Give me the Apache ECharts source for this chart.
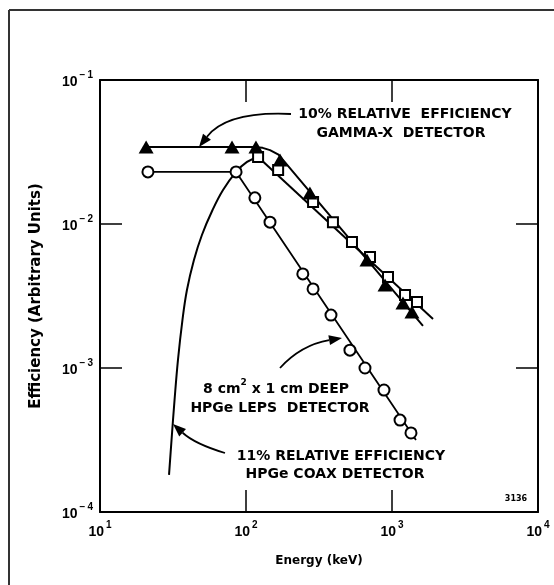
<!DOCTYPE html>
<html>
<head>
<meta charset="utf-8">
<title>Efficiency vs Energy</title>
<script src="https://cdn.jsdelivr.net/npm/echarts@6/dist/echarts.min.js"></script>
<style>
    html, body { margin: 0; padding: 0; background: #fff; }
    #chart { width: 554px; height: 585px; }
</style>
</head>
<body>
<div id="chart"></div>
<script>
'use strict';
// ---- data (energy keV / efficiency) ----
// 10% gamma-x detector, filled triangles
var triE   = [20.7, 80.2, 117, 171, 274, 674, 896, 1189, 1370];
var triEff = [0.0343, 0.0343, 0.0343, 0.0278, 0.0164, 0.00562, 0.00377, 0.00283, 0.00245];
var triFitE   = [20.7, 110, 130, 146, 167, 1630];
var triFitEff = [0.0343, 0.0343, 0.0338, 0.0326, 0.0303, 0.00196];

// 11% coax detector, open squares + smooth low-energy curve
var sqE   = [121, 166, 288, 394, 532, 707, 939, 1228, 1483];
var sqEff = [0.0292, 0.0237, 0.0142, 0.0103, 0.0075, 0.0059, 0.00429, 0.00321, 0.00287];
var coaxE   = [29.7, 30.9, 32.4, 34.2, 36.7, 39.4, 44.0, 49.9, 59.0, 69.6, 85.5, 101.6, 121];
var coaxEff = [0.000181, 0.000316, 0.000599, 0.00114, 0.00215, 0.00348, 0.00562, 0.00839, 0.0125, 0.0172, 0.0230, 0.0270, 0.0292];
var sqFitE   = [121, 1910];
var sqFitEff = [0.0292, 0.00219];

// LEPS detector, open circles
var leE   = [21.3, 85.5, 115, 146, 245, 288, 382, 515, 653, 881, 1135, 1349];
var leEff = [0.0230, 0.0230, 0.0152, 0.0103, 0.0045, 0.00354, 0.00233, 0.00133, 0.00100, 0.000703, 0.000435, 0.000354];
var leFitE   = [21.3, 85.5, 1459];
var leFitEff = [0.0230, 0.0230, 0.000316];

var xRange = [10, 10000];
var yRange = [0.0001, 0.1];

var FONT = '"Liberation Sans", Arial, sans-serif';
var WIDE = '"DejaVu Sans", sans-serif';

function pairs(xs, ys) {
    return xs.map(function (x, i) { return [x, ys[i]]; });
}

function powLabel(v) {
    var e = Math.round(Math.log(v) / Math.LN10);
    return '{b|10}{s|' + (e < 0 ? '\u2212\u2009' + (-e) : e) + '}';
}

var labelRich = {
    b: { fontSize: 14, fontWeight: 'bold', fontFamily: FONT, color: '#000', lineHeight: 19, verticalAlign: 'bottom' },
    s: { fontSize: 10, fontWeight: 'bold', fontFamily: FONT, color: '#000', lineHeight: 10, verticalAlign: 'top', padding: [0, 0, 0, 2] }
};

// quadratic curve with a filled arrow head at (x1, y1)
function arrow(x0, y0, cx, cy, x1, y1) {
    var dx = x1 - cx, dy = y1 - cy;
    var len = Math.sqrt(dx * dx + dy * dy);
    dx /= len; dy /= len;
    var L = 13, w = 5;
    var bx = x1 - dx * L, by = y1 - dy * L;
    return [
        {
            type: 'bezierCurve',
            shape: { x1: x0, y1: y0, cpx1: cx, cpy1: cy, x2: bx, y2: by },
            style: { stroke: '#000', lineWidth: 1.8, fill: null }
        },
        {
            type: 'polygon',
            shape: { points: [[x1, y1], [bx - dy * w, by + dx * w], [bx + dy * w, by - dx * w]] },
            style: { fill: '#000' }
        }
    ];
}

function label(txt, x, y, size) {
    return {
        type: 'text',
        style: {
            text: txt, x: x, y: y,
            align: 'center', verticalAlign: 'middle',
            fontSize: size || 14, fontWeight: 'bold', fontFamily: WIDE, fill: '#000',
            rich: {
                s: { fontSize: 9, fontWeight: 'bold', fontFamily: WIDE, verticalAlign: 'top', lineHeight: 9 },
                n: { fontSize: 14, fontWeight: 'bold', fontFamily: WIDE, verticalAlign: 'bottom', lineHeight: 18 }
            }
        },
        z: 10
    };
}

var axisCommon = {
    type: 'log',
    logBase: 10,
    axisLine: { lineStyle: { color: '#000', width: 2 } },
    axisTick: { show: true, inside: true, length: 22, lineStyle: { color: '#000', width: 1.5 } },
    minorTick: { show: false },
    splitLine: { show: false }
};

var chart = echarts.init(document.getElementById('chart'));

var graphics = [
    // outer frame (only top and left edges show)
    { type: 'line', shape: { x1: 9, y1: 10, x2: 554, y2: 10 }, style: { stroke: '#333', lineWidth: 2 } },
    { type: 'line', shape: { x1: 9, y1: 10, x2: 9, y2: 585 }, style: { stroke: '#333', lineWidth: 2 } },
    label('10% RELATIVE  EFFICIENCY', 405, 114),
    label('GAMMA-X  DETECTOR', 401, 133),
    label('{n|8 cm}{s|2}{n| x 1 cm DEEP}', 276, 387),
    label('HPGe LEPS  DETECTOR', 280, 408),
    label('11% RELATIVE EFFICIENCY', 341, 456),
    label('HPGe COAX DETECTOR', 335, 474),
    label('3136', 516, 499, 8)
].concat(
    arrow(291, 114, 227, 111, 199, 147),
    arrow(280, 368, 301, 345, 342, 338),
    arrow(225, 453, 195, 444, 173, 424)
);

var option = {
    animation: false,
    backgroundColor: '#fff',
    grid: { left: 100, top: 80, right: 16, bottom: 73 },
    xAxis: [
        Object.assign({}, axisCommon, {
            position: 'bottom',
            min: xRange[0], max: xRange[1],
            name: 'Energy (keV)',
            nameLocation: 'middle',
            nameGap: 43,
            nameTextStyle: { fontSize: 12, fontWeight: 'bold', fontFamily: WIDE, color: '#000' },
            axisLabel: { margin: 8, formatter: powLabel, rich: labelRich }
        }),
        Object.assign({}, axisCommon, {
            position: 'top',
            min: xRange[0], max: xRange[1],
            axisLabel: { show: false }
        })
    ],
    yAxis: [
        Object.assign({}, axisCommon, {
            position: 'left',
            min: yRange[0], max: yRange[1],
            name: 'Efficiency (Arbitrary Units)',
            nameLocation: 'middle',
            nameRotate: 90,
            nameGap: 56,
            nameTextStyle: { fontSize: 15, fontWeight: 'bold', fontFamily: WIDE, color: '#000' },
            axisLabel: { margin: 7, formatter: powLabel, rich: labelRich }
        }),
        Object.assign({}, axisCommon, {
            position: 'right',
            min: yRange[0], max: yRange[1],
            axisLabel: { show: false }
        })
    ],
    graphic: graphics,
    series: [
        {
            type: 'line', data: pairs(triFitE, triFitEff),
            symbol: 'none', lineStyle: { color: '#000', width: 2 }, z: 2
        },
        {
            type: 'line', data: pairs(coaxE, coaxEff), smooth: 0.4,
            symbol: 'none', lineStyle: { color: '#000', width: 2 }, z: 2
        },
        {
            type: 'line', data: pairs(sqFitE, sqFitEff),
            symbol: 'none', lineStyle: { color: '#000', width: 2 }, z: 2
        },
        {
            type: 'line', data: pairs(leFitE, leFitEff),
            symbol: 'none', lineStyle: { color: '#000', width: 1.8 }, z: 2
        },
        {
            type: 'scatter', data: pairs(sqE, sqEff),
            symbol: 'rect', symbolSize: 10,
            itemStyle: { color: '#fff', borderColor: '#000', borderWidth: 2, opacity: 1 }, z: 4
        },
        {
            type: 'scatter', data: pairs(triE, triEff),
            symbol: 'triangle', symbolSize: [15, 13],
            itemStyle: { color: '#000', opacity: 1 }, z: 5
        },
        {
            type: 'scatter', data: pairs(leE, leEff),
            symbol: 'circle', symbolSize: 11,
            itemStyle: { color: '#fff', borderColor: '#000', borderWidth: 2, opacity: 1 }, z: 4
        }
    ]
};

chart.setOption(option);
</script>
</body>
</html>
